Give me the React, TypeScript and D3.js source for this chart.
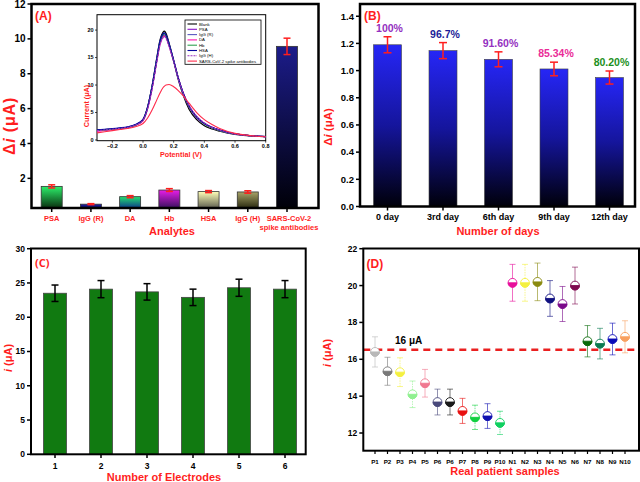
import React from 'react';
import * as d3 from 'd3';

// ---------- Panel A data ----------
const analytes = ['PSA', 'IgG (R)', 'DA', 'Hb', 'HSA', 'IgG (H)', 'SARS-CoV-2 spike antibodies'];
const analyteValues = [1.54, 0.52, 0.95, 1.33, 1.24, 1.22, 9.57];
const analyteErrors = [0.09, 0.03, 0.06, 0.08, 0.06, 0.07, 0.47];
const analyteTicks = [2, 4, 6, 8, 10, 12];
const analyteTopColors = ['#2cf06a', '#2020b0', '#24e070', '#e81ee8', '#ffffb8', '#a8a468', '#1c1c8a'];
const analyteBottomColors = ['#0a3010', '#0a0a50', '#0c3a8a', '#3a1060', '#606050', '#2a2a10', '#000008'];

// ---------- Inset data ----------
const potentials = [-0.3, -0.25, -0.2, -0.15, -0.1, -0.05, 0, 0.03, 0.06, 0.09, 0.11, 0.13, 0.14, 0.15, 0.17, 0.2, 0.23, 0.26, 0.3, 0.35, 0.4, 0.45, 0.5, 0.6, 0.7, 0.8];
const curveNames = ['Blank', 'PSA', 'IgG (R)', 'DA', 'Hb', 'HSA', 'IgG (H)', 'SARS-CoV-2 spike antibodies'];
const blankCurrent = [1.8, 1.9, 2.0, 2.1, 2.3, 2.7, 3.7, 6.0, 10.0, 15.0, 18.1, 19.6, 19.8, 19.4, 17.6, 14.4, 11.0, 8.3, 5.6, 3.7, 2.6, 2.0, 1.6, 1.0, 0.75, 0.6];
const psaCurrent = [1.7, 1.85, 1.95, 2.1, 2.3, 2.7, 3.6, 5.8, 9.6, 14.5, 17.5, 18.9, 19.1, 18.8, 17.2, 14.3, 11.1, 8.5, 6.0, 4.0, 2.9, 2.2, 1.7, 1.1, 0.8, 0.6];
const iggRCurrent = [1.8, 1.9, 2.0, 2.15, 2.35, 2.75, 3.7, 5.9, 9.8, 14.7, 17.8, 19.2, 19.4, 19.0, 17.4, 14.5, 11.3, 8.7, 6.2, 4.2, 3.0, 2.3, 1.8, 1.1, 0.8, 0.6];
const daCurrent = [1.6, 1.75, 1.9, 2.05, 2.25, 2.65, 3.5, 5.7, 9.5, 14.3, 17.3, 18.7, 18.9, 18.6, 17.1, 14.4, 11.3, 8.7, 6.2, 4.2, 3.0, 2.3, 1.8, 1.1, 0.8, 0.6];
const hbCurrent = [1.75, 1.85, 1.95, 2.1, 2.3, 2.7, 3.65, 5.9, 9.8, 14.6, 17.7, 19.1, 19.3, 18.9, 17.3, 14.4, 11.2, 8.6, 6.1, 4.1, 2.9, 2.2, 1.7, 1.1, 0.8, 0.6];
const hsaCurrent = [1.85, 1.95, 2.05, 2.2, 2.4, 2.8, 3.75, 6.0, 9.9, 14.8, 17.9, 19.3, 19.5, 19.1, 17.5, 14.5, 11.3, 8.7, 6.2, 4.2, 3.0, 2.3, 1.8, 1.1, 0.8, 0.6];
const iggHCurrent = [1.7, 1.8, 1.95, 2.1, 2.3, 2.7, 3.6, 5.7, 9.4, 14.2, 17.2, 18.6, 18.8, 18.5, 17.0, 14.3, 11.2, 8.7, 6.3, 4.3, 3.1, 2.3, 1.8, 1.1, 0.8, 0.6];
const sarsCurrent = [1.3, 1.5, 1.7, 1.9, 2.1, 2.4, 3.0, 4.0, 5.5, 7.3, 8.5, 9.5, 9.8, 10.0, 10.1, 9.7, 9.0, 8.1, 6.7, 5.0, 3.7, 2.8, 2.1, 1.2, 0.8, 0.6];
const curveSeries = [blankCurrent, psaCurrent, iggRCurrent, daCurrent, hbCurrent, hsaCurrent, iggHCurrent, sarsCurrent];
const curveColors = ['#000000', '#8a10c8', '#5858c0', '#ff10b0', '#30a050', '#0808a0', '#9a30c0', '#ff2a4a'];
const insetXTicks = [-0.2, 0, 0.2, 0.4, 0.6, 0.8];
const insetYTicks = [0, 5, 10, 15, 20];

// ---------- Panel B data ----------
const days = ['0 day', '3rd day', '6th day', '9th day', '12th day'];
const dayValues = [1.19, 1.147, 1.083, 1.012, 0.949];
const dayErrors = [0.059, 0.059, 0.055, 0.05, 0.048];
const dayPercents = ['100%', '96.7%', '91.60%', '85.34%', '80.20%'];
const dayPercentColors = ['#9430c0', '#1c1c98', '#9430c0', '#ea2c98', '#1c901c'];
const dayTicks = [0, 0.2, 0.4, 0.6, 0.8, 1.0, 1.2, 1.4];

// ---------- Panel C data ----------
const electrodes = ['1', '2', '3', '4', '5', '6'];
const electrodeValues = [23.5, 24.1, 23.7, 22.9, 24.3, 24.1];
const electrodeErrors = [1.2, 1.25, 1.2, 1.2, 1.25, 1.25];
const electrodeTicks = [0, 5, 10, 15, 20, 25, 30];

// ---------- Panel D data ----------
const samples = ['P1', 'P2', 'P3', 'P4', 'P5', 'P6', 'P6', 'P7', 'P8', 'P9', 'P10', 'N1', 'N2', 'N3', 'N4', 'N5', 'N6', 'N7', 'N8', 'N9', 'N10'];
const sampleValues = [16.4, 15.35, 15.3, 14.1, 14.7, 13.68, 13.68, 13.2, 12.85, 12.92, 12.55, 20.15, 20.15, 20.2, 19.3, 19.0, 20.0, 16.98, 16.85, 17.1, 17.22];
const sampleErrors = [0.82, 0.76, 0.78, 0.72, 0.75, 0.7, 0.7, 0.68, 0.66, 0.67, 0.63, 1.0, 1.0, 1.02, 0.97, 0.95, 1.0, 0.85, 0.83, 0.86, 0.87];
const sampleColors = ['#b8b8b8', '#787878', '#f4f040', '#90f090', '#f07890', '#4a4a7c', '#1a1a1a', '#e81010', '#10d040', '#1010b0', '#10d060', '#e8109c', '#f4f040', '#8a8a10', '#101080', '#7a0a8a', '#800a50', '#0a6a0a', '#0a7a50', '#0a0ab8', '#f8a060'];
const sampleDotted = [false, false, true, true, false, false, false, false, true, false, true, false, true, false, false, false, false, false, false, false, false];
const sampleTicks = [12, 14, 16, 18, 20, 22];
const cutoffValue = 16.52;

const RED = '#ff1e1e';
const FONT = '"Liberation Sans", Arial, sans-serif';

function LeftTicks({ scale, ticks, x, fmt, fs, len = 4 }: any) {
  return (
    <g>
      {ticks.map((t: number) => (
        <g key={t}>
          <line x1={x - len} x2={x} y1={scale(t)} y2={scale(t)} stroke="#000" strokeWidth={1.5} />
          <text x={x - len - 2} y={scale(t)} dy="0.35em" textAnchor="end" fontSize={fs} fontWeight="bold" fill="#000">{fmt(t)}</text>
        </g>
      ))}
    </g>
  );
}

function PanelA() {
  const x = d3.scalePoint<string>().domain(analytes).range([51.7, 287]);
  const y = d3.scaleLinear().domain([0.3, 12]).range([208, 4]);
  const bw = 21;
  const xi = d3.scaleLinear().domain([-0.3, 0.8]).range([97, 265.7]);
  const yi = d3.scaleLinear().domain([-0.13, 22.8]).range([140.7, 14.7]);
  const line = d3.line<number>().x((_, i) => xi(potentials[i])).y((d) => yi(d)).curve(d3.curveMonotoneX);
  return (
    <g>
      <defs>
        {analytes.map((_, i) => (
          <linearGradient key={i} id={`gA${i}`} x1="0" y1="0" x2="0" y2="1">
            <stop offset="0" stopColor={analyteTopColors[i]} />
            <stop offset="1" stopColor={analyteBottomColors[i]} />
          </linearGradient>
        ))}
      </defs>
      {analytes.map((c, i) => (
        <g key={c}>
          <rect x={x(c)! - bw / 2} y={y(analyteValues[i])} width={bw} height={y(0.3) - y(analyteValues[i])} fill={`url(#gA${i})`} stroke="#333" strokeWidth={0.8} />
          <line x1={x(c)} x2={x(c)} y1={y(analyteValues[i] + analyteErrors[i])} y2={y(analyteValues[i] - analyteErrors[i])} stroke={RED} strokeWidth={1.5} />
          <line x1={x(c)! - 3.5} x2={x(c)! + 3.5} y1={y(analyteValues[i] + analyteErrors[i])} y2={y(analyteValues[i] + analyteErrors[i])} stroke={RED} strokeWidth={1.5} />
          <line x1={x(c)! - 3.5} x2={x(c)! + 3.5} y1={y(analyteValues[i] - analyteErrors[i])} y2={y(analyteValues[i] - analyteErrors[i])} stroke={RED} strokeWidth={1.5} />
          <line x1={x(c)} x2={x(c)} y1={208} y2={212} stroke="#000" strokeWidth={1.5} />
        </g>
      ))}
      {analytes.map((c, i) =>
        i < analytes.length - 1 ? (
          <text key={c} x={x(c)} y={221} textAnchor="middle" fontSize={7.5} fontWeight="bold" fill={RED}>{c}</text>
        ) : (
          <text key={c} x={x(c)! + 2} y={221} textAnchor="middle" fontSize={7.5} fontWeight="bold" fill={RED}>
            <tspan x={x(c)! + 2}>SARS-CoV-2</tspan>
            <tspan x={x(c)! + 2} dy={9}>spike antibodies</tspan>
          </text>
        )
      )}
      <LeftTicks scale={y} ticks={analyteTicks} x={31.5} fmt={(t: number) => String(t)} fs={10} />
      <rect x={31.5} y={4} width={287} height={204} fill="none" stroke="#000" strokeWidth={2.5} />
      <text x={172} y={235} textAnchor="middle" fontSize={11} fontWeight="bold" fill={RED}>Analytes</text>
      <text transform="translate(15,126) rotate(-90)" textAnchor="middle" fontSize={16} fontWeight="bold" fill={RED} letterSpacing={0.8}>
        <tspan>Δ</tspan><tspan fontStyle="italic">i</tspan><tspan> (μA)</tspan>
      </text>
      <text x={35} y={19.5} fontSize={12} fontWeight="bold" fill={RED}>(A)</text>

      {/* inset */}
      <rect x={97} y={14.7} width={168.7} height={126} fill="#fff" stroke="#000" strokeWidth={1} />
      {curveSeries.map((s, i) => (
        <path key={i} d={line(s)!} fill="none" stroke={curveColors[i]} strokeWidth={i === 7 ? 1.1 : 1.2} strokeDasharray={i === 6 ? '2,1' : undefined} />
      ))}
      {insetXTicks.map((t) => (
        <g key={t}>
          <line x1={xi(t)} x2={xi(t)} y1={140.7} y2={142.7} stroke="#000" strokeWidth={0.7} />
          <text x={xi(t)} y={148} textAnchor="middle" fontSize={5.5} fontWeight="bold" fill="#000">{d3.format('.1f')(t)}</text>
        </g>
      ))}
      {insetYTicks.map((t) => (
        <g key={t}>
          <line x1={95} x2={97} y1={yi(t)} y2={yi(t)} stroke="#000" strokeWidth={0.7} />
          <text x={93.5} y={yi(t)} dy="0.35em" textAnchor="end" fontSize={5.5} fontWeight="bold" fill="#000">{t}</text>
        </g>
      ))}
      <text x={181} y={156.5} textAnchor="middle" fontSize={7.2} fontWeight="bold" fill={RED}>Potential (V)</text>
      <text transform="translate(89,106) rotate(-90)" textAnchor="middle" fontSize={7.2} fontWeight="bold" fill={RED}>Current (μA)</text>
      <rect x={185} y={20} width={76} height={44.3} fill="#fff" stroke="#000" strokeWidth={0.8} />
      {curveNames.map((n, i) => (
        <g key={n}>
          <line x1={187.5} x2={197} y1={24 + i * 5.3} y2={24 + i * 5.3} stroke={curveColors[i]} strokeWidth={1.1} strokeDasharray={i === 6 ? '2,1' : undefined} />
          <text x={199} y={24 + i * 5.3} dy="0.35em" fontSize={4.3} fill="#000">{n}</text>
        </g>
      ))}
    </g>
  );
}

function PanelB() {
  const x = d3.scalePoint<string>().domain(days).range([387.5, 609.5]);
  const y = d3.scaleLinear().domain([0, 1.49]).range([206.5, 4]);
  const bw = 28;
  return (
    <g>
      <defs>
        <linearGradient id="gB" x1="0" y1="0" x2="0" y2="1">
          <stop offset="0" stopColor="#2626f6" />
          <stop offset="0.5" stopColor="#15159c" />
          <stop offset="1" stopColor="#00000a" />
        </linearGradient>
      </defs>
      {days.map((d, i) => {
        const cx = x(d)!;
        const top = y(dayValues[i] + dayErrors[i]);
        const bot = y(dayValues[i] - dayErrors[i]);
        return (
          <g key={d}>
            <rect x={cx - bw / 2} y={y(dayValues[i])} width={bw} height={y(0) - y(dayValues[i])} fill="url(#gB)" stroke="#444" strokeWidth={0.6} />
            <line x1={cx} x2={cx} y1={top} y2={bot} stroke={RED} strokeWidth={1.5} />
            <line x1={cx - 4} x2={cx + 4} y1={top} y2={top} stroke={RED} strokeWidth={1.5} />
            <line x1={cx - 4} x2={cx + 4} y1={bot} y2={bot} stroke={RED} strokeWidth={1.5} />
            <text x={cx + 2} y={top - 8.5} dy="0.35em" textAnchor="middle" fontSize={10.5} fontWeight="bold" fill={dayPercentColors[i]}>{dayPercents[i]}</text>
            <line x1={cx} x2={cx} y1={206.5} y2={210.5} stroke="#000" strokeWidth={1.5} />
            <text x={cx} y={217} dy="0.35em" textAnchor="middle" fontSize={9} fontWeight="bold" fill="#000">{d}</text>
          </g>
        );
      })}
      <LeftTicks scale={y} ticks={dayTicks} x={360} fmt={d3.format('.1f')} fs={9.5} />
      <rect x={360} y={4} width={275} height={202.5} fill="none" stroke="#000" strokeWidth={2.5} />
      <text x={498} y={231} dy="0.35em" textAnchor="middle" fontSize={11} fontWeight="bold" fill={RED}>Number of days</text>
      <text transform="translate(332,127) rotate(-90)" textAnchor="middle" fontSize={11.5} fontWeight="bold" fill={RED}>
        <tspan>Δ</tspan><tspan fontStyle="italic">i</tspan><tspan> (μA)</tspan>
      </text>
      <text x={364} y={19.5} fontSize={12} fontWeight="bold" fill={RED}>(B)</text>
    </g>
  );
}

function PanelC() {
  const x = d3.scalePoint<string>().domain(electrodes).range([55, 285]);
  const y = d3.scaleLinear().domain([0, 30]).range([454.3, 248.7]);
  const bw = 23;
  return (
    <g>
      {electrodes.map((e, i) => {
        const cx = x(e)!;
        const top = y(electrodeValues[i] + electrodeErrors[i]);
        const bot = y(electrodeValues[i] - electrodeErrors[i]);
        return (
          <g key={e}>
            <rect x={cx - bw / 2} y={y(electrodeValues[i])} width={bw} height={y(0) - y(electrodeValues[i])} fill="#117a11" stroke="#444" strokeWidth={0.8} />
            <line x1={cx} x2={cx} y1={top} y2={bot} stroke="#000" strokeWidth={1.5} />
            <line x1={cx - 3.5} x2={cx + 3.5} y1={top} y2={top} stroke="#000" strokeWidth={1.5} />
            <line x1={cx - 3.5} x2={cx + 3.5} y1={bot} y2={bot} stroke="#000" strokeWidth={1.5} />
            <line x1={cx} x2={cx} y1={454.3} y2={458} stroke="#000" strokeWidth={1.5} />
            <text x={cx} y={465.7} dy="0.35em" textAnchor="middle" fontSize={8.5} fontWeight="bold" fill="#000">{e}</text>
          </g>
        );
      })}
      <LeftTicks scale={y} ticks={electrodeTicks} x={31} fmt={(t: number) => String(t)} fs={8.5} />
      <rect x={31} y={248.5} width={274.7} height={205.8} fill="none" stroke="#000" strokeWidth={2} />
      <text x={164} y={481} textAnchor="middle" fontSize={11} fontWeight="bold" fill={RED}>Number of Electrodes</text>
      <text transform="translate(12,358) rotate(-90)" textAnchor="middle" fontSize={11} fontWeight="bold" fill={RED}>
        <tspan fontStyle="italic">i</tspan><tspan> (μA)</tspan>
      </text>
      <text x={35} y={266.5} fontFamily='"Open Sans", sans-serif' fontSize={11} fontWeight="bold" fill={RED}>(C)</text>
    </g>
  );
}

function PanelD() {
  const x = d3.scaleLinear().domain([0, samples.length - 1]).range([375, 625]);
  const y = d3.scaleLinear().domain([11.04, 22]).range([450.7, 248.7]);
  const r = 4.4;
  return (
    <g>
      <line x1={363.3} x2={639} y1={y(cutoffValue)} y2={y(cutoffValue)} stroke="#ea2020" strokeWidth={2.5} strokeDasharray="7,5" />
      <text x={395} y={344} fontSize={10} fontWeight="bold" fill="#000">16 μA</text>
      {samples.map((s, i) => {
        const cx = x(i);
        const cy = y(sampleValues[i]);
        const top = y(sampleValues[i] + sampleErrors[i]);
        const bot = y(sampleValues[i] - sampleErrors[i]);
        const col = sampleColors[i];
        const dash = sampleDotted[i] ? '1.5,1' : undefined;
        return (
          <g key={i}>
            <g stroke={col} strokeOpacity={0.6} strokeWidth={1}>
              <line x1={cx} x2={cx} y1={top} y2={bot} strokeDasharray={dash} />
              <line x1={cx - 3} x2={cx + 3} y1={top} y2={top} />
              <line x1={cx - 3} x2={cx + 3} y1={bot} y2={bot} />
            </g>
            <circle cx={cx} cy={cy} r={r} fill="#fff" stroke={col} strokeWidth={0.9} />
            <path d={`M${cx - r},${cy} A${r},${r} 0 0 0 ${cx + r},${cy} Z`} fill={col} stroke={col} strokeWidth={0.9} />
            <line x1={cx} x2={cx} y1={450.7} y2={454} stroke="#000" strokeWidth={1.2} />
            <text x={cx} y={461.7} dy="0.35em" textAnchor="middle" fontSize={6.2} fontWeight="bold" fill="#000">{s}</text>
          </g>
        );
      })}
      <LeftTicks scale={y} ticks={sampleTicks} x={363.3} fmt={(t: number) => String(t)} fs={8.5} />
      <rect x={363.3} y={248.5} width={275.7} height={202.2} fill="none" stroke="#000" strokeWidth={2} />
      <text x={505} y={471} dy="0.35em" textAnchor="middle" fontSize={11} fontWeight="bold" fill={RED}>Real patient samples</text>
      <text transform="translate(331,353) rotate(-90)" textAnchor="middle" fontSize={11} fontWeight="bold" fill={RED}>
        <tspan fontStyle="italic">i</tspan><tspan> (μA)</tspan>
      </text>
      <text x={366.5} y={267.5} fontSize={12} fontWeight="bold" fill={RED}>(D)</text>
    </g>
  );
}

export default function App() {
  return (
    <svg width={640} height={482} style={{ position: 'absolute', left: 0, top: 0, display: 'block', background: '#fff' }} fontFamily={FONT}>
      <rect width={640} height={482} fill="#fff" />
      <PanelA />
      <PanelB />
      <PanelC />
      <PanelD />
    </svg>
  );
}
